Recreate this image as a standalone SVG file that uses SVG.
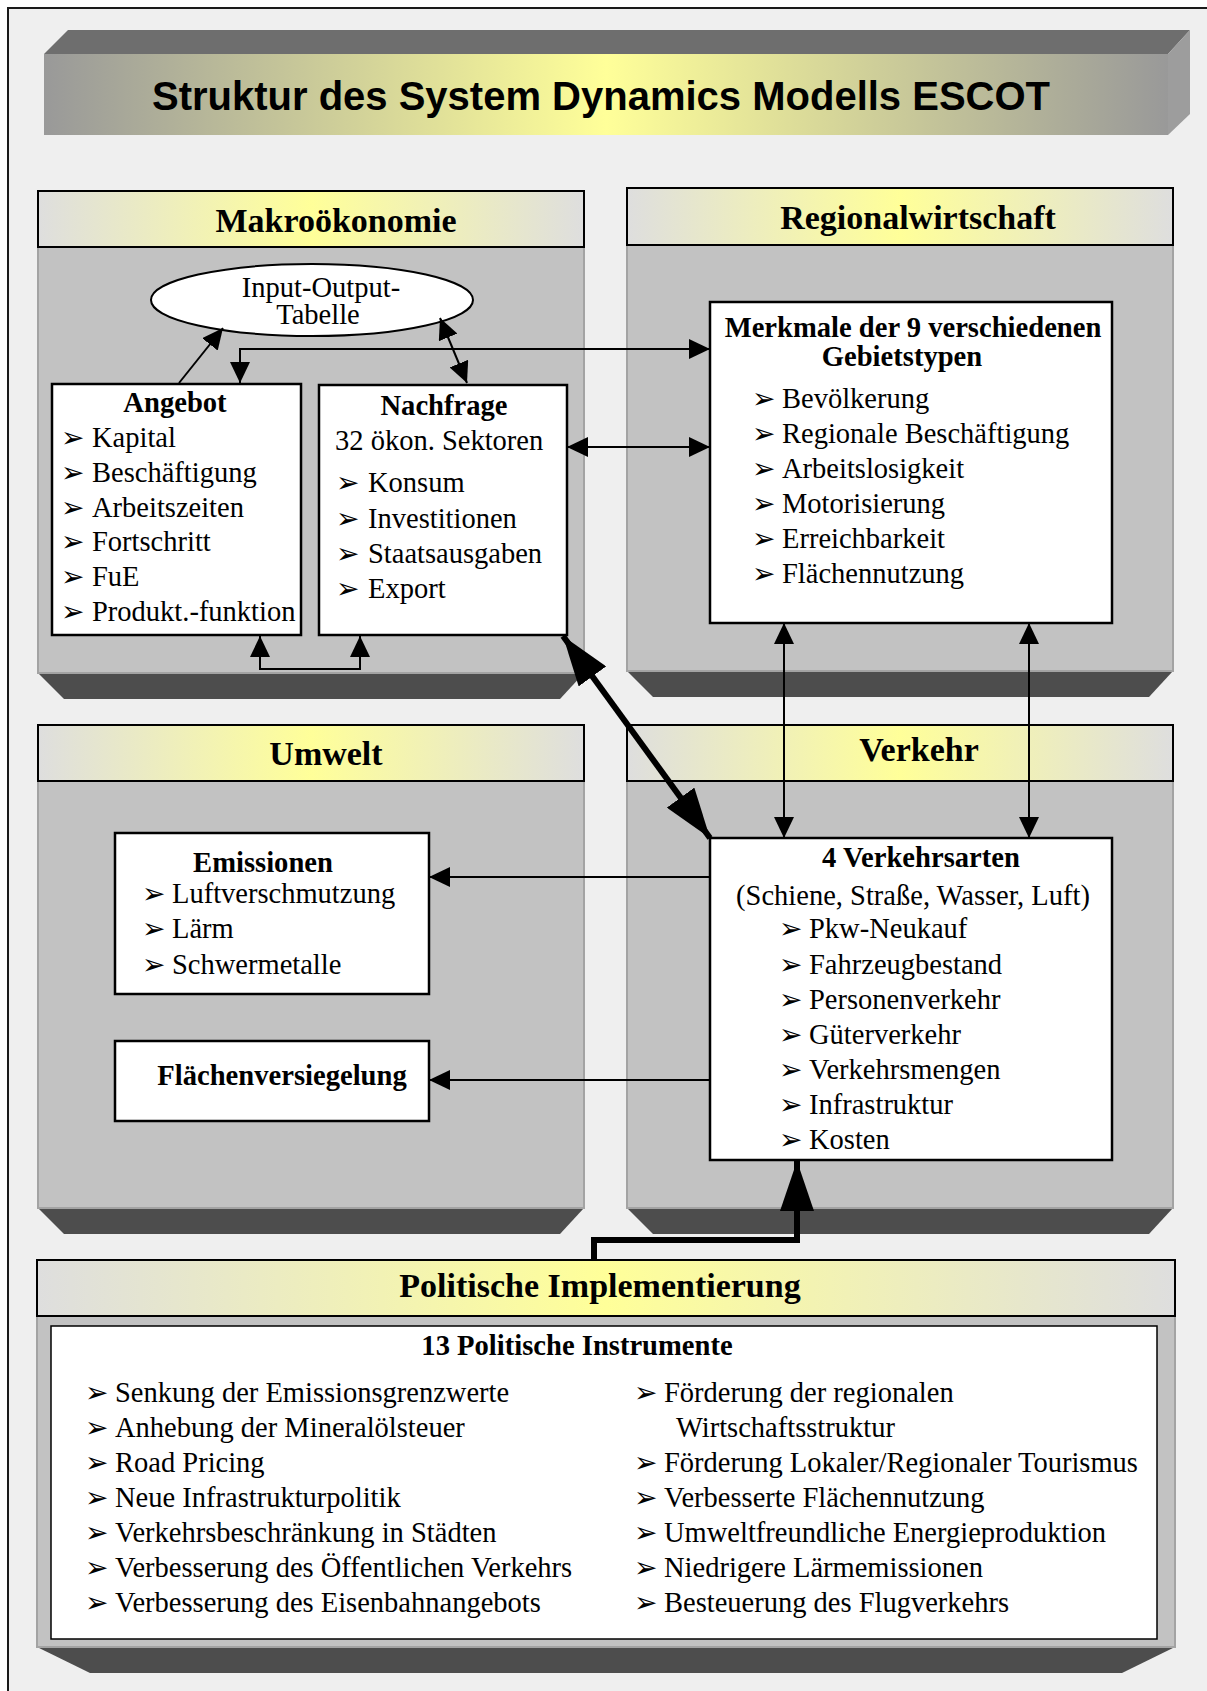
<svg xmlns="http://www.w3.org/2000/svg" width="1207" height="1691" viewBox="0 0 1207 1691">
<defs>
<linearGradient id="gTitle" x1="0" y1="0" x2="1" y2="0">
<stop offset="0" stop-color="#999999"/><stop offset="0.5" stop-color="#ffff99"/><stop offset="1" stop-color="#999999"/>
</linearGradient>
<linearGradient id="gHead" x1="0" y1="0" x2="1" y2="0">
<stop offset="0" stop-color="#dedede"/><stop offset="0.5" stop-color="#ffff99"/><stop offset="1" stop-color="#dedede"/>
</linearGradient>
<marker id="ah" markerUnits="userSpaceOnUse" markerWidth="22" markerHeight="20" refX="21" refY="10" orient="auto-start-reverse" viewBox="0 0 22 20">
<path d="M0,0 L21,10 L0,20 z" fill="#000"/>
</marker>
<marker id="ahT" markerUnits="userSpaceOnUse" markerWidth="52" markerHeight="34" refX="50" refY="17" orient="auto-start-reverse" viewBox="0 0 52 34">
<path d="M0,0 L50,17 L0,34 z" fill="#000"/>
</marker>
<style>
.body{fill:#c2c2c2;stroke:#a3a3a3;stroke-width:2}
.face{fill:#4d4d4d}
.head{fill:url(#gHead);stroke:#000;stroke-width:2}
.box{fill:#fff;stroke:#000;stroke-width:2.5}
.ht{font-family:"Liberation Serif","Times New Roman",serif;font-weight:bold;font-size:34px;text-anchor:middle}
.bt{font-family:"Liberation Serif","Times New Roman",serif;font-weight:bold;font-size:28.6px}
.t{font-family:"Liberation Serif","Times New Roman",serif;font-size:28.5px}
.c{text-anchor:middle}
.b{font-family:"DejaVu Sans",sans-serif;font-size:28px}
.ln{fill:none;stroke:#000;stroke-width:2}
.tk{fill:none;stroke:#000;stroke-width:6}
</style>
</defs>
<rect x="0" y="0" width="1207" height="1691" fill="#fff"/>
<rect x="8" y="8" width="1220" height="1700" fill="#efefef" stroke="#1a1a1a" stroke-width="2"/>

<g id="title">
<polygon points="44,54 68,30 1190,30 1168,54" fill="#6e6e6e"/>
<rect x="44" y="54" width="1124" height="81" fill="url(#gTitle)"/>
<polygon points="1168,54 1190,30 1190,114 1168,135" fill="#9d9d9d"/>
<text x="601" y="110" font-family="Liberation Sans, Arial, sans-serif" font-weight="bold" font-size="40" text-anchor="middle">Struktur des System Dynamics Modells ESCOT</text>
</g>

<g id="panel-makro">
<polygon class="face" points="38,673 584,673 560,699 64,699"/>
<rect class="body" x="38" y="191" width="546" height="482"/>
<rect class="head" x="38" y="191" width="546" height="56"/>
<text class="ht" x="336" y="232">Makroökonomie</text>
</g>
<g id="panel-regional">
<polygon class="face" points="627,671 1173,671 1149,697 653,697"/>
<rect class="body" x="627" y="188" width="546" height="483"/>
<rect class="head" x="627" y="188" width="546" height="57"/>
<text class="ht" x="918" y="229">Regionalwirtschaft</text>
</g>
<g id="panel-umwelt">
<polygon class="face" points="38,1208 584,1208 560,1234 64,1234"/>
<rect class="body" x="38" y="725" width="546" height="483"/>
<rect class="head" x="38" y="725" width="546" height="56"/>
<text class="ht" x="326" y="765">Umwelt</text>
</g>
<g id="panel-verkehr">
<polygon class="face" points="627,1208 1173,1208 1149,1234 653,1234"/>
<rect class="body" x="627" y="725" width="546" height="483"/>
<rect class="head" x="627" y="725" width="546" height="56"/>
<text class="ht" x="919" y="761">Verkehr</text>
</g>
<g id="panel-politik">
<polygon class="face" points="37,1647 1175,1647 1122,1673 90,1673"/>
<rect class="body" x="37" y="1260" width="1138" height="387"/>
<rect class="head" x="37" y="1260" width="1138" height="56"/>
<text class="ht" x="600" y="1297">Politische Implementierung</text>
</g>

<g id="io-tabelle">
<ellipse cx="312" cy="300" rx="161" ry="36" fill="#fff" stroke="#000" stroke-width="2"/>
<text class="t c" x="321" y="297">Input-Output-</text>
<text class="t c" x="318" y="324">Tabelle</text>
</g>

<g id="angebot">
<rect class="box" x="52" y="384" width="249" height="251"/>
<text class="bt c" x="175" y="412">Angebot</text>
<text class="b" x="61" y="447">➢</text><text class="t" x="92" y="447">Kapital</text>
<text class="b" x="61" y="482">➢</text><text class="t" x="92" y="482">Beschäftigung</text>
<text class="b" x="61" y="517">➢</text><text class="t" x="92" y="517">Arbeitszeiten</text>
<text class="b" x="61" y="551">➢</text><text class="t" x="92" y="551">Fortschritt</text>
<text class="b" x="61" y="586">➢</text><text class="t" x="92" y="586">FuE</text>
<text class="b" x="61" y="621">➢</text><text class="t" x="92" y="621">Produkt.-funktion</text>
</g>

<g id="nachfrage">
<rect class="box" x="319" y="385" width="248" height="250"/>
<text class="bt c" x="444" y="415">Nachfrage</text>
<text class="t" x="335" y="450">32 ökon. Sektoren</text>
<text class="b" x="336" y="492">➢</text><text class="t" x="368" y="492">Konsum</text>
<text class="b" x="336" y="528">➢</text><text class="t" x="368" y="528">Investitionen</text>
<text class="b" x="336" y="563">➢</text><text class="t" x="368" y="563">Staatsausgaben</text>
<text class="b" x="336" y="598">➢</text><text class="t" x="368" y="598">Export</text>
</g>

<g id="merkmale">
<rect class="box" x="710" y="302" width="402" height="321"/>
<text class="bt c" x="913" y="337">Merkmale der 9 verschiedenen</text>
<text class="bt c" x="902" y="366">Gebietstypen</text>
<text class="b" x="752" y="408">➢</text><text class="t" x="782" y="408">Bevölkerung</text>
<text class="b" x="752" y="443">➢</text><text class="t" x="782" y="443">Regionale Beschäftigung</text>
<text class="b" x="752" y="478">➢</text><text class="t" x="782" y="478">Arbeitslosigkeit</text>
<text class="b" x="752" y="513">➢</text><text class="t" x="782" y="513">Motorisierung</text>
<text class="b" x="752" y="548">➢</text><text class="t" x="782" y="548">Erreichbarkeit</text>
<text class="b" x="752" y="583">➢</text><text class="t" x="782" y="583">Flächennutzung</text>
</g>

<g id="verkehrsarten">
<rect class="box" x="710" y="838" width="402" height="322"/>
<text class="bt c" x="921" y="867">4 Verkehrsarten</text>
<text class="t c" x="913" y="905">(Schiene, Straße, Wasser, Luft)</text>
<text class="b" x="779" y="938">➢</text><text class="t" x="809" y="938">Pkw-Neukauf</text>
<text class="b" x="779" y="974">➢</text><text class="t" x="809" y="974">Fahrzeugbestand</text>
<text class="b" x="779" y="1009">➢</text><text class="t" x="809" y="1009">Personenverkehr</text>
<text class="b" x="779" y="1044">➢</text><text class="t" x="809" y="1044">Güterverkehr</text>
<text class="b" x="779" y="1079">➢</text><text class="t" x="809" y="1079">Verkehrsmengen</text>
<text class="b" x="779" y="1114">➢</text><text class="t" x="809" y="1114">Infrastruktur</text>
<text class="b" x="779" y="1149">➢</text><text class="t" x="809" y="1149">Kosten</text>
</g>

<g id="emissionen">
<rect class="box" x="115" y="833" width="314" height="161"/>
<text class="bt c" x="263" y="872" font-size="30">Emissionen</text>
<text class="b" x="142" y="903">➢</text><text class="t" x="172" y="903">Luftverschmutzung</text>
<text class="b" x="142" y="938">➢</text><text class="t" x="172" y="938">Lärm</text>
<text class="b" x="142" y="974">➢</text><text class="t" x="172" y="974">Schwermetalle</text>
</g>

<g id="flaechenversiegelung">
<rect class="box" x="115" y="1041" width="314" height="80"/>
<text class="bt c" x="282" y="1085">Flächenversiegelung</text>
</g>

<g id="instrumente">
<rect x="51" y="1326" width="1106" height="313" fill="#fff" stroke="#000" stroke-width="1.5"/>
<text class="bt c" x="577" y="1355">13 Politische Instrumente</text>
<text class="b" x="85" y="1402">➢</text><text class="t" x="115" y="1402">Senkung der Emissionsgrenzwerte</text>
<text class="b" x="85" y="1437">➢</text><text class="t" x="115" y="1437">Anhebung der Mineralölsteuer</text>
<text class="b" x="85" y="1472">➢</text><text class="t" x="115" y="1472">Road Pricing</text>
<text class="b" x="85" y="1507">➢</text><text class="t" x="115" y="1507">Neue Infrastrukturpolitik</text>
<text class="b" x="85" y="1542">➢</text><text class="t" x="115" y="1542">Verkehrsbeschränkung in Städten</text>
<text class="b" x="85" y="1577">➢</text><text class="t" x="115" y="1577">Verbesserung des Öffentlichen Verkehrs</text>
<text class="b" x="85" y="1612">➢</text><text class="t" x="115" y="1612">Verbesserung des Eisenbahnangebots</text>
<text class="b" x="634" y="1402">➢</text><text class="t" x="664" y="1402">Förderung der regionalen</text>
<text class="t" x="676" y="1437">Wirtschaftsstruktur</text>
<text class="b" x="634" y="1472">➢</text><text class="t" x="664" y="1472">Förderung Lokaler/Regionaler Tourismus</text>
<text class="b" x="634" y="1507">➢</text><text class="t" x="664" y="1507">Verbesserte Flächennutzung</text>
<text class="b" x="634" y="1542">➢</text><text class="t" x="664" y="1542">Umweltfreundliche Energieproduktion</text>
<text class="b" x="634" y="1577">➢</text><text class="t" x="664" y="1577">Niedrigere Lärmemissionen</text>
<text class="b" x="634" y="1612">➢</text><text class="t" x="664" y="1612">Besteuerung des Flugverkehrs</text>
</g>

<g id="connectors">
<line class="ln" x1="179" y1="383" x2="223" y2="328" marker-end="url(#ah)"/>
<line class="ln" x1="440" y1="318" x2="467" y2="383" marker-start="url(#ah)" marker-end="url(#ah)"/>
<polyline class="ln" points="240,383 240,349 710,349" marker-start="url(#ah)" marker-end="url(#ah)"/>
<line class="ln" x1="567" y1="447" x2="710" y2="447" marker-start="url(#ah)" marker-end="url(#ah)"/>
<polyline class="ln" points="260,636 260,669 360,669 360,636" marker-start="url(#ah)" marker-end="url(#ah)"/>
<line class="tk" x1="563" y1="636" x2="710" y2="838" marker-start="url(#ahT)" marker-end="url(#ahT)"/>
<line class="ln" x1="784" y1="623" x2="784" y2="838" marker-start="url(#ah)" marker-end="url(#ah)"/>
<line class="ln" x1="1029" y1="623" x2="1029" y2="838" marker-start="url(#ah)" marker-end="url(#ah)"/>
<line class="ln" x1="710" y1="877" x2="429" y2="877" marker-end="url(#ah)"/>
<line class="ln" x1="710" y1="1080" x2="429" y2="1080" marker-end="url(#ah)"/>
<polyline class="tk" points="594,1260 594,1240 797,1240 797,1161" marker-end="url(#ahT)"/>
</g>
</svg>
